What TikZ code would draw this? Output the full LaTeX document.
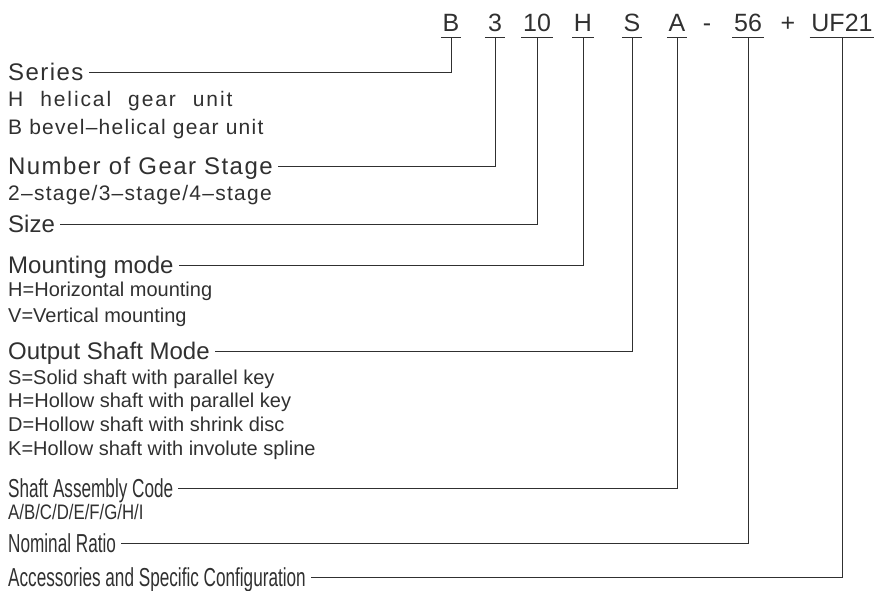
\documentclass[tikz,border=0pt]{standalone}
\usepackage{fontspec}
\setmainfont{Liberation Sans}
\newfontfamily\plainface{Liberation Sans}
\newfontfamily\narrowface[FakeStretch=0.66]{Liberation Sans}
\newfontfamily\condface[FakeStretch=0.8]{Liberation Sans}
\newfontfamily\wideface[LetterSpace=6]{Liberation Sans}
\newfontfamily\airyface[LetterSpace=9,WordSpace=2.2]{Liberation Sans}
\usetikzlibrary{
  positioning,
}
\definecolor{ink}{HTML}{303030}
\tikzstyle{code} = [
anchor=base,
text=ink,
font=\plainface\fontsize{25}{30}\selectfont,
text depth=0pt,
inner ysep=5.5pt,
inner xsep=1.5pt,
minimum width=20pt
]
\tikzstyle{title} = [
anchor=west,
text=ink,
inner xsep=5pt,
inner ysep=0pt,
text depth=0pt,
text height=17pt,
font=\plainface\fontsize{24}{28}\selectfont
]
\tikzstyle{narrowtitle} = [title, text height=18.5pt, font=\narrowface\fontsize{26}{30}\selectfont]
\tikzstyle{widetitle} = [title, font=\wideface\fontsize{24}{28}\selectfont]
\tikzstyle{option} = [title, text height=14.5pt, font=\plainface\fontsize{20}{24}\selectfont]
\tikzstyle{wideoption} = [option, font=\wideface\fontsize{21}{24}\selectfont]
\tikzstyle{airyoption} = [option, font=\airyface\fontsize{21}{24}\selectfont]
\tikzstyle{condoption} = [option, font=\condface\fontsize{21}{24}\selectfont]
\tikzstyle{leader} = [draw=ink, line width=0.9pt]

\begin{document}
\begin{tikzpicture}[x=1pt, y=-1pt]
  \useasboundingbox (0,0) rectangle (887,591);
  % Place nodes
  \node [code] (mSeries) at (451,32) {B};
  \node [code] (mStage) at (495,32) {3};
  \node [code] (mSize) at (537,32) {10};
  \node [code] (mMount) at (583,32) {H};
  \node [code] (mShaft) at (632,32) {S};
  \node [code] (mAssy) at (677,32) {A};
  \node [code] (mDash) at (707,32) {-};
  \node [code] (mRatio) at (748,32) {56};
  \node [code] (mPlus) at (788,32) {+};
  \node [code] (mAcc) at (842,32) {UF21};

  \node [widetitle] (series) at (3,72) {Series};
  \node [airyoption] (helical) at (3,99) {H helical gear unit};
  \node [wideoption] (bevel) at (3,127) {B bevel–helical gear unit};

  \node [widetitle] (stage) at (3,166) {Number of Gear Stage};
  \node [wideoption] (stages) at (3,193) {2–stage/3–stage/4–stage};

  \node [title] (size) at (3,224) {Size};

  \node [title] (mount) at (3,265) {Mounting mode};
  \node [option] (horiz) at (3,289.5) {H=Horizontal mounting};
  \node [option] (vert) at (3,315) {V=Vertical mounting};

  \node [title] (shaft) at (3,351) {Output Shaft Mode};
  \node [option] (solid) at (3,377) {S=Solid shaft with parallel key};
  \node [option] (hollow) at (3,400) {H=Hollow shaft with parallel key};
  \node [option] (shrink) at (3,424) {D=Hollow shaft with shrink disc};
  \node [option] (spline) at (3,448) {K=Hollow shaft with involute spline};

  \node [narrowtitle] (assy) at (3,488) {Shaft Assembly Code};
  \node [condoption] (letters) at (3,512) {A/B/C/D/E/F/G/H/I};

  \node [narrowtitle] (ratio) at (3,543) {Nominal Ratio};

  \node [narrowtitle] (acc) at (3,577) {Accessories and Specific Configuration};

  % Draw edges
  \foreach \m in {mSeries, mStage, mSize, mMount, mShaft, mAssy, mRatio, mAcc}
    \path [leader] (\m.south west) -- (\m.south east);

  \path [leader] (mSeries.south) |- (series.east);
  \path [leader] (mStage.south) |- (stage.east);
  \path [leader] (mSize.south) |- (size.east);
  \path [leader] (mMount.south) |- (mount.east);
  \path [leader] (mShaft.south) |- (shaft.east);
  \path [leader] (mAssy.south) |- (assy.east);
  \path [leader] (mRatio.south) |- (ratio.east);
  \path [leader] (mAcc.south) |- (acc.east);

\end{tikzpicture}
\end{document}
